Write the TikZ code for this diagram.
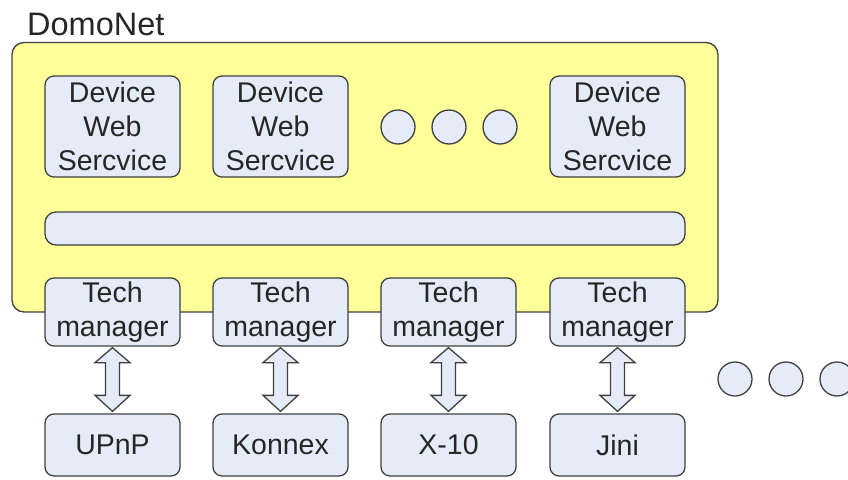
\documentclass[tikz,border=0pt]{standalone}
\usepackage{fontspec}
\setmainfont{Liberation Sans}
\usetikzlibrary{calc}
\definecolor{linecol}{HTML}{404040}
\definecolor{boxfill}{HTML}{E6ECF7}
\definecolor{yelfill}{HTML}{FFFF99}
\definecolor{textcol}{HTML}{262626}
\tikzset{
  box/.style={draw=linecol, fill=boxfill, rounded corners=9pt, line width=1.3pt,
    minimum width=135pt, inner sep=0pt, align=center, text=textcol,
    font=\fontsize{28.5}{34}\selectfont},
  dot/.style={draw=linecol, fill=boxfill, circle, line width=1.3pt, minimum size=34pt, inner sep=0pt},
  container/.style={draw=linecol, fill=yelfill, rounded corners=12pt, line width=1.3pt, inner sep=0pt},
  blockarrow/.style={draw=linecol, fill=boxfill, line width=1.3pt, line join=miter}
}
\newcommand{\dblarrow}[2]{%
  \filldraw[blockarrow] let \p1=(#1.south), \p2=(#2.north) in
    (\x1,\y1-1pt) -- (\x1+17.5pt,\y1-16pt) -- (\x1+7pt,\y1-16pt) -- (\x1+7pt,\y2+18pt)
    -- (\x1+17.5pt,\y2+18pt) -- (\x1,\y2+2pt) -- (\x1-17.5pt,\y2+18pt) -- (\x1-7pt,\y2+18pt)
    -- (\x1-7pt,\y1-16pt) -- (\x1-17.5pt,\y1-16pt) -- cycle;}
\begin{document}
\begin{tikzpicture}[x=1pt,y=-1pt]
\useasboundingbox (0,0) rectangle (848,479);
\node[anchor=base west, inner sep=0pt, text=textcol, font=\fontsize{32.5}{39}\selectfont] (title) at (27,35) {DomoNet};
\node[container, minimum width=706pt, minimum height=269.5pt] (domonet) at (365,177.25) {};
% device web services
\node[box, minimum height=101pt] (d1) at (112.5,126.5) {Device\\Web\\Sercvice};
\node[box, minimum height=101pt] (d2) at (280.5,126.5) {Device\\Web\\Sercvice};
\node[box, minimum height=101pt] (d4) at (617.5,126.5) {Device\\Web\\Sercvice};
\node[dot] (c1) at (398,127) {};
\node[dot] (c2) at (449,127) {};
\node[dot] (c3) at (500,127) {};
% bus
\node[box, minimum width=640pt, minimum height=33pt, rounded corners=11pt] (bus) at (365,228.5) {};
% tech managers
\node[box, minimum height=68pt] (t1) at (112.5,312) {Tech\\manager};
\node[box, minimum height=68pt] (t2) at (280.5,312) {Tech\\manager};
\node[box, minimum height=68pt] (t3) at (448.5,312) {Tech\\manager};
\node[box, minimum height=68pt] (t4) at (617.5,312) {Tech\\manager};
% technologies
\node[box, minimum height=62pt] (b1) at (112.5,445) {UPnP};
\node[box, minimum height=62pt] (b2) at (280.5,445) {Konnex};
\node[box, minimum height=62pt] (b3) at (448.5,445) {X-10};
\node[box, minimum height=62pt] (b4) at (617.5,445) {Jini};
% arrows
\dblarrow{t1}{b1}
\dblarrow{t2}{b2}
\dblarrow{t3}{b3}
\dblarrow{t4}{b4}
% more dots
\node[dot] (e1) at (735,379) {};
\node[dot] (e2) at (786,379) {};
\node[dot] (e3) at (837,379) {};
\end{tikzpicture}
\end{document}
